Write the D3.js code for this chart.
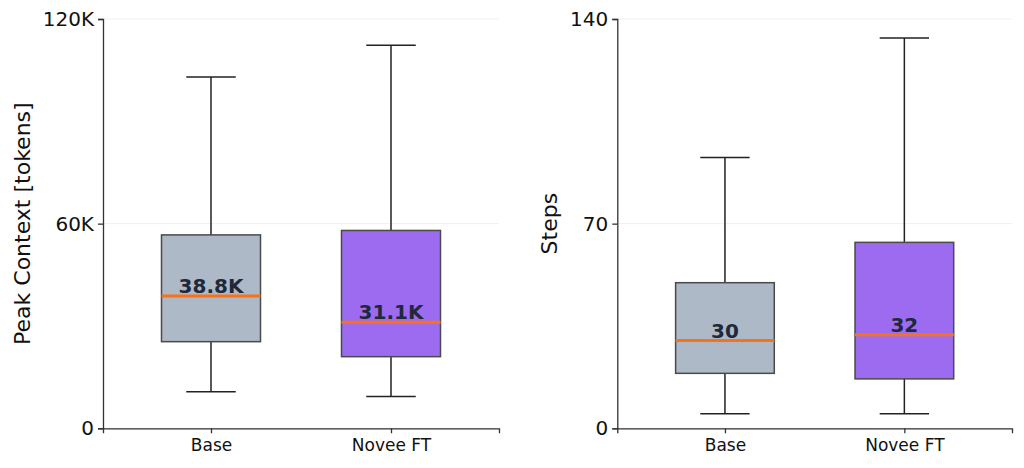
<!DOCTYPE html>
<html>
<head>
<meta charset="utf-8">
<script src="https://cdn.jsdelivr.net/npm/d3@7"></script>
<style>
  html, body { margin: 0; padding: 0; background: #fff; }
  svg { display: block; font-family: "DejaVu Sans", sans-serif; }
</style>
</head>
<body>
<svg id="chart" width="1024" height="468"></svg>
<script>
// ---- Data ----
const categories = ["Base", "Novee FT"];
const boxColors = ["#aeb9c7", "#9d6bf0"];

// Peak context (tokens): [whiskerLow, Q1, median, Q3, whiskerHigh]
const contextStats = [
  [10700, 25400, 38800, 56700, 103000],
  [9300, 21000, 31100, 58000, 112300]
];
const contextLabels = ["38.8K", "31.1K"];
const contextTicks = [0, 60000, 120000];
const contextTickLabels = ["0", "60K", "120K"];

// Steps: [whiskerLow, Q1, median, Q3, whiskerHigh]
const stepsStats = [
  [5, 18.8, 30, 49.8, 92.6],
  [5, 16.9, 32, 63.6, 133.5]
];
const stepsLabels = ["30", "32"];
const stepsTicks = [0, 70, 140];
const stepsTickLabels = ["0", "70", "140"];

const svg = d3.select("#chart");

function panel(opts) {
  const { left, right, top, bottom, yMax, stats, labels, ticks, tickLabels, yTitle, titleX } = opts;
  const x = d3.scaleLinear().domain([0.4, 2.6]).range([left, right]);
  const y = d3.scaleLinear().domain([0, yMax]).range([bottom, top]);
  const g = svg.append("g");

  // grid
  g.selectAll("line.grid").data(ticks).enter().append("line")
    .attr("x1", left).attr("x2", right)
    .attr("y1", d => y(d)).attr("y2", d => y(d))
    .attr("stroke", "#ebebeb").attr("stroke-width", 0.8);

  const boxW = x(0.55) - x(0);
  const capW = x(0.275) - x(0);

  stats.forEach((s, i) => {
    const cx = x(i + 1);
    const [lo, q1, med, q3, hi] = s;
    const wg = g.append("g");
    // whiskers
    wg.append("line").attr("x1", cx).attr("x2", cx).attr("y1", y(q3)).attr("y2", y(hi))
      .attr("stroke", "#222").attr("stroke-width", 1.5);
    wg.append("line").attr("x1", cx).attr("x2", cx).attr("y1", y(q1)).attr("y2", y(lo))
      .attr("stroke", "#222").attr("stroke-width", 1.5);
    // caps
    [lo, hi].forEach(v => {
      wg.append("line").attr("x1", cx - capW / 2).attr("x2", cx + capW / 2)
        .attr("y1", y(v)).attr("y2", y(v))
        .attr("stroke", "#222").attr("stroke-width", 1.5);
    });
    // box
    wg.append("rect")
      .attr("x", cx - boxW / 2).attr("width", boxW)
      .attr("y", y(q3)).attr("height", y(q1) - y(q3))
      .attr("fill", boxColors[i])
      .attr("stroke", "#4a4a4a").attr("stroke-width", 1.5);
    // median
    wg.append("line").attr("x1", cx - boxW / 2).attr("x2", cx + boxW / 2)
      .attr("y1", y(med)).attr("y2", y(med))
      .attr("stroke", "#f97316").attr("stroke-width", 3);
    wg.append("text")
      .attr("x", cx).attr("y", y(med) - 3)
      .attr("text-anchor", "middle")
      .attr("font-size", 20).attr("font-weight", "bold")
      .attr("fill", "#1e293b")
      .text(labels[i]);
  });

  // y axis
  const yAxis = d3.axisLeft(y).tickValues(ticks)
    .tickFormat((d, i) => tickLabels[i]).tickSizeOuter(0).tickSize(5).tickPadding(4);
  const ya = g.append("g").attr("transform", `translate(${left},0)`).call(yAxis);
  ya.select(".domain").attr("stroke", "#333").attr("stroke-width", 1.3);
  ya.selectAll(".tick line").attr("stroke", "#333").attr("stroke-width", 1.3);
  ya.selectAll(".tick text").attr("font-size", 20).attr("fill", "#111")
    .attr("font-family", "DejaVu Sans, sans-serif");

  // x axis
  const xAxis = d3.axisBottom(x).tickValues([1, 2])
    .tickFormat((d, i) => categories[i]).tickSizeOuter(0).tickSize(5).tickPadding(6);
  const xa = g.append("g").attr("transform", `translate(0,${bottom})`).call(xAxis);
  xa.select(".domain").attr("stroke", "#333").attr("stroke-width", 1.3);
  xa.selectAll(".tick line").attr("stroke", "#333").attr("stroke-width", 1.3);
  xa.selectAll(".tick text").attr("font-size", 17).attr("fill", "#111")
    .attr("font-family", "DejaVu Sans, sans-serif");

  // y title
  g.append("text")
    .attr("transform", `translate(${titleX},${(top + bottom) / 2}) rotate(-90)`)
    .attr("text-anchor", "middle")
    .attr("dominant-baseline", "central")
    .attr("font-size", 22).attr("fill", "#111")
    .text(yTitle);
}

panel({
  left: 103, right: 499, top: 19, bottom: 428.3, yMax: 120000,
  stats: contextStats, labels: contextLabels,
  ticks: contextTicks, tickLabels: contextTickLabels,
  yTitle: "Peak Context [tokens]", titleX: 22
});

panel({
  left: 617.3, right: 1012, top: 19, bottom: 428.3, yMax: 140,
  stats: stepsStats, labels: stepsLabels,
  ticks: stepsTicks, tickLabels: stepsTickLabels,
  yTitle: "Steps", titleX: 549
});
</script>
</body>
</html>
